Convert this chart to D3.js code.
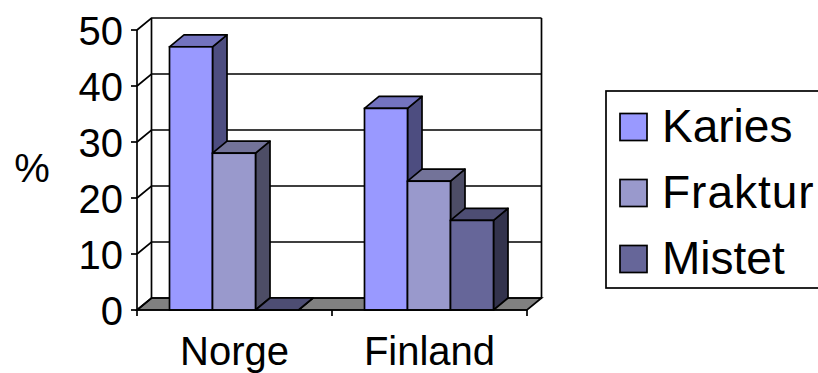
<!DOCTYPE html>
<html>
<head>
<meta charset="utf-8">
<script src="https://cdn.jsdelivr.net/npm/d3@7"></script>
<style>
html,body{margin:0;padding:0;background:#fff}
svg{display:block}
text{font-family:"Liberation Sans",Arial,sans-serif;fill:#000}
</style>
</head>
<body>
<div id="chart"></div>
<script>
// Share of cases per country, in percent
const categories = ["Norge", "Finland"];
const seriesNames = ["Karies", "Fraktur", "Mistet"];
const karies = [47, 36];
const fraktur = [28, 23];
const mistet = [0, 16];
const yTicks = [0, 10, 20, 30, 40, 50];

const frontFill = ["#9999ff", "#9999cc", "#666699"];
const topFill = ["#7373bf", "#737399", "#4d4d73"];
const sideFill = ["#4d4d80", "#4d4d66", "#33334d"];

const W = 818, H = 373;
const depthX = 14.5, depthY = 12;
const stroke = "#000";
const sw = 1.7;

const svg = d3.select("#chart").append("svg").attr("width", W).attr("height", H);

const y = d3.scaleLinear().domain([0, 50]).range([310, 30]);
const x0 = d3.scaleBand().domain(categories).range([137, 527]);
const x1 = d3.scaleBand().domain(seriesNames).range([32.5, 161.5]);

// Back wall and floor of the 3D box
const left = x0.range()[0], right = x0.range()[1];
const base = y(0);

svg.append("polygon")
  .attr("points", [[left, base], [left + depthX, base - depthY], [right + depthX, base - depthY], [right, base]].join(" "))
  .attr("fill", "#808080").attr("stroke", stroke).attr("stroke-width", sw);

const grid = svg.append("g");
grid.selectAll("path.wall").data(yTicks).join("path")
  .attr("class", "wall")
  .attr("fill", "none").attr("stroke", stroke).attr("stroke-width", sw)
  .attr("d", d => `M${left},${y(d)}L${left + depthX},${y(d) - depthY}L${right + depthX},${y(d) - depthY}`);
grid.append("line")
  .attr("x1", left + depthX).attr("x2", left + depthX)
  .attr("y1", y(50) - depthY).attr("y2", y(0) - depthY)
  .attr("stroke", stroke).attr("stroke-width", sw);
grid.append("line")
  .attr("x1", right + depthX).attr("x2", right + depthX)
  .attr("y1", y(50) - depthY).attr("y2", y(0) - depthY)
  .attr("stroke", stroke).attr("stroke-width", sw);

// Bars: one group per series, each with side, top and front faces
const rows = [karies, fraktur, mistet].map((vals, s) =>
  vals.map((v, c) => ({ v, s, cat: categories[c], name: seriesNames[s] })));

const bars = svg.append("g");
categories.forEach((cat, c) => {
  seriesNames.forEach((name, s) => {
    const d = rows[s][c];
    const x = x0(cat) + x1(name), w = x1.bandwidth(), t = y(d.v);
    const g = bars.append("g").datum(d);
    g.append("polygon")
      .attr("points", [[x + w, t], [x + w + depthX, t - depthY], [x + w + depthX, base - depthY], [x + w, base]].join(" "))
      .attr("fill", sideFill[s]).attr("stroke", stroke).attr("stroke-width", sw).attr("stroke-linejoin", "round");
    g.append("polygon")
      .attr("points", [[x, t], [x + depthX, t - depthY], [x + w + depthX, t - depthY], [x + w, t]].join(" "))
      .attr("fill", topFill[s]).attr("stroke", stroke).attr("stroke-width", sw).attr("stroke-linejoin", "round");
    g.append("rect")
      .attr("x", x).attr("y", t).attr("width", w).attr("height", base - t)
      .attr("fill", frontFill[s]).attr("stroke", stroke).attr("stroke-width", sw);
  });
});

// Front axes
const axisLayer = svg.append("g").attr("stroke", stroke).attr("stroke-width", sw);
axisLayer.append("line").attr("x1", left).attr("x2", left).attr("y1", y(50)).attr("y2", base + 6);
axisLayer.append("line").attr("x1", left).attr("x2", right).attr("y1", base).attr("y2", base);
axisLayer.selectAll("line.ytick").data(yTicks).join("line").attr("class", "ytick")
  .attr("x1", left - 6).attr("x2", left).attr("y1", d => y(d)).attr("y2", d => y(d));
axisLayer.selectAll("line.xtick").data(categories).join("line").attr("class", "xtick")
  .attr("x1", d => x0(d) + x0.bandwidth()).attr("x2", d => x0(d) + x0.bandwidth())
  .attr("y1", base).attr("y2", base + 6);

svg.selectAll("text.ylab").data(yTicks).join("text").attr("class", "ylab")
  .attr("x", 123).attr("y", d => y(d) + 14.5).attr("text-anchor", "end")
  .attr("font-size", 40).text(d => d);

svg.selectAll("text.xlab").data(categories).join("text").attr("class", "xlab")
  .attr("x", d => x0(d) + x0.bandwidth() / 2).attr("y", 365).attr("text-anchor", "middle")
  .attr("font-size", 40).text(d => d);

svg.append("text").attr("x", 32).attr("y", 182).attr("text-anchor", "middle")
  .attr("font-size", 40).text("%");

// Legend
svg.append("rect").attr("x", 606).attr("y", 91).attr("width", 240).attr("height", 197)
  .attr("fill", "#fff").attr("stroke", stroke).attr("stroke-width", sw);
const legendY = d3.scalePoint().domain(seriesNames).range([127, 259]);
const lg = svg.selectAll("g.lg").data(seriesNames).join("g").attr("class", "lg")
  .attr("transform", d => `translate(0,${legendY(d)})`);
lg.append("rect").attr("x", 620).attr("y", -13.5).attr("width", 27).attr("height", 27)
  .attr("fill", (d, i) => frontFill[i]).attr("stroke", stroke).attr("stroke-width", sw);
lg.append("text").attr("x", 662).attr("y", 15).attr("font-size", 46)
  .attr("letter-spacing", d => d === "Fraktur" ? 1 : 0).text(d => d);
</script>
</body>
</html>
